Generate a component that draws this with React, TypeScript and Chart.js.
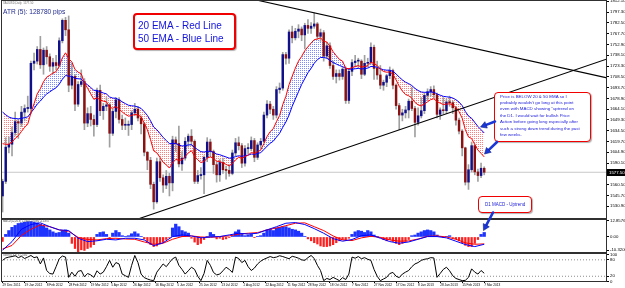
import React, { useEffect, useRef } from 'react';
import { Chart, registerables } from 'chart.js';

Chart.register(...registerables);

// ---------- DATA (XAUUSD daily, each bar = 2 sessions) ----------
const OPEN = [
  1545, 1565, 1612, 1616, 1632, 1647, 1645, 1660, 1665, 1665,
  1727, 1730, 1746, 1725, 1745, 1736, 1723, 1728, 1724, 1758,
  1786, 1773, 1697, 1709, 1671, 1698, 1702, 1645, 1658, 1650,
  1643, 1690, 1662, 1668, 1670, 1631, 1661, 1677, 1650, 1642,
  1642, 1643, 1659, 1664, 1652, 1644, 1605, 1594, 1561, 1537,
  1592, 1570, 1560, 1572, 1563, 1622, 1617, 1589, 1597, 1620,
  1627, 1620, 1565, 1573, 1574, 1598, 1619, 1606, 1588, 1574,
  1591, 1581, 1580, 1576, 1604, 1618, 1614, 1590, 1610, 1610,
  1621, 1598, 1615, 1620, 1656, 1671, 1664, 1656, 1691, 1693,
  1739, 1734, 1770, 1762, 1771, 1774, 1766, 1779, 1775, 1778,
  1781, 1764, 1769, 1737, 1751, 1724, 1709, 1713, 1709, 1719,
  1676, 1716, 1728, 1730, 1730, 1712, 1727, 1728, 1749, 1720,
  1711, 1697, 1701, 1710, 1717, 1697, 1669, 1656, 1659, 1663,
  1675, 1665, 1646, 1655, 1662, 1683, 1688, 1691, 1684, 1657,
  1663, 1662, 1674, 1673, 1666, 1649, 1634, 1611, 1564, 1581,
  1614, 1578, 1573, 1583,
];
const HIGH = [
  1568, 1625, 1626, 1640, 1660, 1650, 1668, 1670, 1682, 1730,
  1741, 1750, 1764, 1748, 1750, 1740, 1734, 1738, 1762, 1788,
  1790, 1792, 1727, 1712, 1702, 1718, 1706, 1666, 1668, 1656,
  1693, 1697, 1672, 1680, 1672, 1664, 1680, 1680, 1656, 1652,
  1648, 1662, 1672, 1668, 1655, 1646, 1606, 1598, 1564, 1597,
  1597, 1574, 1580, 1576, 1627, 1626, 1641, 1606, 1625, 1630,
  1636, 1622, 1580, 1584, 1600, 1625, 1623, 1608, 1592, 1595,
  1597, 1586, 1588, 1608, 1624, 1626, 1617, 1614, 1617, 1626,
  1624, 1618, 1624, 1660, 1676, 1675, 1668, 1695, 1700, 1742,
  1742, 1773, 1778, 1775, 1780, 1777, 1782, 1787, 1783, 1796,
  1783, 1774, 1772, 1756, 1755, 1730, 1718, 1718, 1722, 1722,
  1720, 1732, 1738, 1734, 1732, 1738, 1734, 1755, 1752, 1730,
  1724, 1704, 1712, 1722, 1719, 1699, 1672, 1664, 1668, 1678,
  1694, 1668, 1666, 1680, 1686, 1692, 1695, 1696, 1686, 1666,
  1680, 1678, 1682, 1675, 1668, 1652, 1636, 1612, 1588, 1619,
  1616, 1582, 1590, 1585,
];
const LOW = [
  1523, 1562, 1604, 1600, 1628, 1624, 1640, 1648, 1660, 1658,
  1718, 1726, 1720, 1712, 1726, 1716, 1712, 1718, 1722, 1755,
  1765, 1688, 1692, 1662, 1668, 1695, 1636, 1640, 1641, 1627,
  1640, 1655, 1650, 1662, 1612, 1628, 1652, 1645, 1636, 1636,
  1628, 1636, 1655, 1648, 1630, 1600, 1581, 1555, 1527, 1535,
  1565, 1550, 1555, 1545, 1552, 1606, 1585, 1580, 1594, 1612,
  1614, 1562, 1562, 1568, 1548, 1592, 1600, 1576, 1564, 1565,
  1576, 1568, 1572, 1574, 1600, 1608, 1584, 1586, 1603, 1607,
  1592, 1595, 1610, 1618, 1652, 1658, 1650, 1652, 1686, 1690,
  1726, 1727, 1755, 1759, 1762, 1758, 1747, 1768, 1768, 1775,
  1760, 1757, 1730, 1734, 1720, 1705, 1700, 1704, 1705, 1672,
  1672, 1710, 1722, 1720, 1706, 1710, 1722, 1726, 1705, 1705,
  1692, 1690, 1695, 1706, 1692, 1664, 1636, 1648, 1652, 1652,
  1662, 1626, 1642, 1652, 1658, 1676, 1682, 1680, 1652, 1650,
  1658, 1658, 1668, 1658, 1642, 1630, 1600, 1560, 1554, 1578,
  1574, 1565, 1570, 1574,
];
const CLOSE = [
  1565, 1612, 1616, 1632, 1647, 1645, 1660, 1665, 1665, 1727,
  1730, 1746, 1725, 1745, 1736, 1723, 1728, 1724, 1758, 1786,
  1773, 1697, 1709, 1671, 1698, 1702, 1645, 1658, 1650, 1643,
  1690, 1662, 1668, 1670, 1631, 1661, 1677, 1650, 1642, 1642,
  1643, 1659, 1664, 1652, 1644, 1605, 1594, 1561, 1537, 1592,
  1570, 1560, 1572, 1563, 1622, 1617, 1589, 1597, 1620, 1627,
  1620, 1565, 1573, 1574, 1598, 1619, 1606, 1588, 1574, 1591,
  1581, 1580, 1576, 1604, 1618, 1614, 1590, 1610, 1610, 1621,
  1598, 1615, 1620, 1656, 1671, 1664, 1656, 1691, 1693, 1739,
  1734, 1770, 1762, 1771, 1774, 1766, 1779, 1775, 1778, 1781,
  1764, 1769, 1737, 1751, 1724, 1709, 1713, 1709, 1719, 1676,
  1716, 1728, 1730, 1730, 1712, 1727, 1728, 1749, 1720, 1711,
  1697, 1701, 1710, 1717, 1697, 1669, 1656, 1659, 1663, 1675,
  1665, 1646, 1655, 1662, 1683, 1688, 1691, 1684, 1657, 1663,
  1662, 1674, 1673, 1666, 1649, 1634, 1611, 1564, 1581, 1614,
  1578, 1573, 1583, 1577.5,
];
const EMA20 = [
  1616.7, 1615.9, 1615.9, 1618.8, 1623.9, 1627.7, 1633.5, 1639.2, 1643.8, 1658.8,
  1671.6, 1685.0, 1692.2, 1701.7, 1707.9, 1710.6, 1713.7, 1715.6, 1723.2, 1734.5,
  1741.4, 1733.4, 1729.0, 1718.6, 1714.9, 1712.6, 1700.4, 1692.8, 1685.1, 1677.5,
  1679.8, 1676.6, 1675.1, 1674.2, 1666.4, 1665.4, 1667.5, 1664.3, 1660.3, 1657.0,
  1654.5, 1655.3, 1656.9, 1656.0, 1653.8, 1645.0, 1635.8, 1622.3, 1606.9, 1604.2,
  1598.0, 1591.2, 1587.7, 1583.3, 1590.3, 1595.1, 1594.0, 1594.5, 1599.1, 1604.1,
  1607.0, 1599.4, 1594.6, 1590.9, 1592.2, 1597.0, 1598.6, 1596.7, 1592.6, 1592.3,
  1590.3, 1588.4, 1586.2, 1589.4, 1594.5, 1598.0, 1596.6, 1599.0, 1601.0, 1604.6,
  1603.4, 1605.5, 1608.1, 1616.7, 1626.5, 1633.3, 1637.4, 1647.0, 1655.3, 1670.4,
  1681.8, 1697.7, 1709.3, 1720.4, 1730.0, 1736.5, 1744.2, 1749.7, 1754.8, 1759.5,
  1760.3, 1761.9, 1757.4, 1756.2, 1750.4, 1742.9, 1737.5, 1732.4, 1730.0, 1720.3,
  1719.5, 1721.0, 1722.6, 1723.9, 1721.8, 1722.7, 1723.7, 1728.3, 1726.8, 1724.0,
  1719.1, 1715.8, 1714.8, 1715.2, 1711.9, 1704.2, 1695.5, 1688.9, 1684.2, 1682.5,
  1679.3, 1673.3, 1670.0, 1668.6, 1671.2, 1674.2, 1677.2, 1678.4, 1674.5, 1672.4,
  1670.5, 1671.1, 1671.4, 1670.4, 1666.5, 1660.6, 1651.7, 1635.9, 1626.0, 1623.8,
  1615.6, 1607.9, 1603.4, 1598.6,
];
const EMA50 = [
  1660.1, 1656.4, 1653.3, 1651.7, 1651.3, 1650.8, 1651.5, 1652.5, 1653.5, 1659.2,
  1664.7, 1671.0, 1675.2, 1680.6, 1684.9, 1687.8, 1690.9, 1693.4, 1698.4, 1705.1,
  1710.3, 1709.3, 1709.3, 1706.4, 1705.8, 1705.5, 1700.8, 1697.5, 1693.8, 1689.9,
  1689.9, 1687.8, 1686.3, 1685.0, 1680.8, 1679.3, 1679.1, 1676.9, 1674.2, 1671.7,
  1669.5, 1668.7, 1668.3, 1667.0, 1665.2, 1660.6, 1655.5, 1648.2, 1639.6, 1635.9,
  1630.8, 1625.3, 1621.2, 1616.7, 1617.1, 1617.1, 1614.9, 1613.5, 1614.0, 1615.0,
  1615.4, 1611.5, 1608.5, 1605.8, 1605.2, 1606.3, 1606.3, 1604.9, 1602.5, 1601.6,
  1600.0, 1598.5, 1596.8, 1597.4, 1599.0, 1600.2, 1599.4, 1600.2, 1601.0, 1602.5,
  1602.2, 1603.2, 1604.5, 1608.5, 1613.3, 1617.2, 1620.2, 1625.7, 1630.9, 1639.2,
  1646.5, 1656.0, 1668.0, 1678.0, 1688.0, 1698.0, 1706.0, 1714.0, 1720.0, 1727.0,
  1732.0, 1735.0, 1735.0, 1734.0, 1731.0, 1728.0, 1726.0, 1724.0, 1722.5, 1720.0,
  1719.0, 1719.0, 1719.5, 1720.0, 1719.2, 1719.8, 1720.4, 1722.6, 1722.4, 1721.5,
  1719.6, 1718.2, 1717.6, 1717.6, 1716.0, 1712.4, 1708.1, 1704.3, 1701.1, 1699.1,
  1696.5, 1692.6, 1689.7, 1687.6, 1687.2, 1687.3, 1687.6, 1687.3, 1685.0, 1683.3,
  1681.7, 1681.1, 1680.5, 1679.4, 1677.1, 1673.8, 1669.0, 1660.9, 1654.7, 1651.6,
  1645.9, 1640.3, 1635.9, 1631.4,
];
const MACD_HIST = [
  -3.5, 2.0, 5.0, 7.5, 9.0, 10.5, 11.0, 11.5, 11.9, 12.0,
  11.5, 11.0, 10.0, 8.5, 7.0, 5.5, 4.0, 3.0, 3.5, 5.0,
  5.5, 3.0, -5.0, -9.0, -11.5, -10.0, -10.5, -9.0, -8.0, -6.0,
  2.0, 3.5, 4.0, 2.0, -1.0, 3.0, 5.0, 3.5, 1.0, 0.5,
  1.0, 2.5, 4.0, 2.5, 0.5, -1.5, -3.5, -6.0, -7.5, -7.0,
  -5.5, -4.0, -2.0, -0.5, 7.0, 10.0, 8.0, 5.0, 4.0, 3.0,
  -1.0, -4.0, -6.0, -5.0, -2.0, 0.5, 3.5, 2.0, -1.5, -1.0,
  -2.0, -1.5, -0.5, 1.0, 4.0, 5.5, 2.0, 1.0, 1.5, 2.0,
  -0.5, 0.5, 1.0, 3.0, 5.5, 6.0, 5.0, 7.0, 7.5, 8.0,
  8.0, 7.0, 6.0, 5.5, 4.5, 3.0, 0.5, -1.5, -3.0, -4.5,
  -5.5, -7.0, -7.5, -7.5, -7.0, -6.0, -4.5, -3.0, -2.0, -2.5,
  -1.0, 2.0, 4.0, 5.0, 4.5, 3.5, 5.0, 4.0, 1.5, 0.5,
  -0.5, -2.0, -3.0, -2.0, -3.5, -5.0, -6.0, -5.0, -3.5, -2.0,
  1.0, 1.5, 3.0, 4.0, 5.0, 5.5, 5.0, 4.0, 1.5, 0.5,
  -0.5, 0.5, 1.0, -0.5, -1.5, -3.0, -4.5, -6.5, -7.5, -7.5,
  -5.0, -2.0, 2.0, 3.5,
];
const MACD_STEP = 3; // MACD line samples every 3 bars
const MACD_MAIN = [
  -10.3, -3.6, 6.0, 9.7, 11.0, 8.0, 5.5, 5.0, -1.0, -3.6,
  -3.0, -1.8, -2.3, -1.0, -1.0, -2.3, -6.8, -4.5, 0.3, 1.6,
  0.8, -0.7, 0.0, 0.3, 1.6, 2.9, 2.3, 2.9, 5.5, 8.0,
  10.7, 11.2, 9.7, 6.5, 2.9, -1.3, -3.3, -2.0, 1.0, 1.6,
  -1.0, -3.6, -4.9, -3.9, -1.8, 0.3, 0.3, -0.7, -3.3, -5.9,
  -7.5, -5.7,
];
const MACD_SIGNAL = [
  -9.4, -6.6, 1.2, 6.0, 9.4, 8.0, 5.5, 4.4, -0.3, -2.0,
  -2.3, -1.3, -1.0, -1.6, -1.8, -3.9, -5.7, -4.9, -1.8, 0.3,
  0.8, 0.0, -0.3, 0.3, 0.8, 2.3, 2.9, 3.4, 5.5, 7.0,
  8.8, 10.7, 11.0, 8.0, 5.0, 0.8, -2.3, -2.8, -0.7, 0.5,
  -0.3, -2.3, -3.3, -3.1, -1.6, 0.5, 0.8, 0.0, -1.8, -4.6,
  -5.7, -5.4,
];
const OSC = [
  78, 87, 90, 92, 95, 88, 93, 85, 90, 96,
  88, 91, 65, 87, 41, 30, 28, 55, 84, 94,
  90, 16, 35, 20, 38, 41, 18, 30, 25, 16,
  40, 28, 35, 55, 78, 53, 70, 65, 28, 22,
  16, 60, 96, 70, 28, 15, 10, 6, 4, 35,
  50, 65, 55, 70, 84, 90, 60, 45, 28, 40,
  53, 45, 20, 4, 30, 78, 60, 34, 25, 28,
  40, 53, 45, 34, 90, 85, 70, 78, 55, 41,
  50, 65, 75, 82, 87, 92, 88, 90, 95, 92,
  88, 84, 93, 90, 86, 80, 78, 88, 96, 85,
  60, 41, 4, 12, 8, 16, 10, 4, 15, 8,
  28, 90, 86, 92, 84, 88, 82, 78, 45, 20,
  4, 10, 16, 30, 34, 20, 15, 28, 35, 41,
  55, 65, 70, 78, 82, 84, 88, 87, 16, 30,
  45, 53, 40, 22, 12, 8, 4, 5, 16, 47,
  35, 28, 41, 31,
];
const OSC_LEVELS = [80, 20];
const CURRENT_PRICE = 1577.5;
// trend lines: [bar index, price]
const TREND_DOWN = [{ x: 80, y: 1814.5 }, { x: 192, y: 1707 }];
const TREND_UP = [{ x: 43, y: 1513.4 }, { x: 192, y: 1732.9 }];

const PRICE_TICKS = [
  1812.1, 1797.3, 1782.5, 1767.7, 1752.9, 1738.1, 1723.3, 1708.5, 1693.7, 1678.9,
  1664.1, 1649.3, 1634.5, 1619.7, 1604.9, 1590.1, 1575.3, 1560.5, 1545.7, 1530.9,
];
const MACD_TICKS = [12.8576, 0, -10.32];
const MACD_TICK_LABELS = ['12.8576', '0.00', '-10.3200'];
const OSC_TICKS = [100, 80, 20, 0];
const OSC_TICK_LABELS = ['100', '80', '20', '0'];
const DATE_LABELS = [
  '29 Dec 2011', '19 Jan 2012', '8 Feb 2012', '28 Feb 2012', '19 Mar 2012', '5 Apr 2012',
  '26 Apr 2012', '16 May 2012', '5 Jun 2012', '25 Jun 2012', '13 Jul 2012', '2 Aug 2012',
  '22 Aug 2012', '11 Sep 2012', '28 Sep 2012', '18 Oct 2012', '7 Nov 2012', '27 Nov 2012',
  '17 Dec 2012', '8 Jan 2013', '28 Jan 2013', '15 Feb 2013', '7 Mar 2013',
];
const DATE_SESSIONS = [0, 14, 28, 42, 56, 69, 83, 97, 111, 125, 139, 153, 167, 181, 194, 208, 222, 236, 250, 264, 278, 292, 306];
const SESSIONS_PER_BAR = 2;

// ---------- scale ranges ----------
const X_MIN = -0.5;
const X_MAX = 192;
const PRICE_MIN = 1513.4;
const PRICE_MAX = 1812.5;
const MACD_MIN = -12.5;
const MACD_MAX = 14.0;
const OSC_MIN = -1;
const OSC_MAX = 105;

// ---------- styles ----------
const FAMILY = "'Liberation Sans', Arial, sans-serif";
const AXIS_FONT = { family: FAMILY, size: 4.3 };
const UP_BODY = '#10108a';
const DOWN_BODY = '#8b1010';
const WICK = '#a0a0a0';
const AXIS_W = 18;

function makePattern(color: string) {
  const c = document.createElement('canvas');
  c.width = 2;
  c.height = 2;
  const g = c.getContext('2d')!;
  g.fillStyle = color;
  g.fillRect(0, 0, 1, 1);
  return g.createPattern(c, 'repeat')!;
}

const framePlugin = {
  id: 'paneFrame',
  afterDraw(chart: any, _a: any, opts: any) {
    const { ctx, chartArea: a } = chart;
    ctx.save();
    ctx.strokeStyle = '#303030';
    ctx.lineWidth = 1;
    const top = opts && opts.outerTop ? a.top - 0.5 : a.top + 0.5;
    ctx.strokeRect(a.left + 0.5, top, a.right - a.left - 1, a.bottom - 0.5 - top);
    ctx.restore();
  },
};

const pricePlugin = {
  id: 'priceMarker',
  afterDraw(chart: any) {
    const { ctx, chartArea: a, scales } = chart;
    const y = scales.y.getPixelForValue(CURRENT_PRICE);
    ctx.save();
    ctx.fillStyle = '#000';
    ctx.fillRect(a.right, Math.round(y) - 3, AXIS_W, 7);
    ctx.fillStyle = '#fff';
    ctx.font = `4.3px ${FAMILY}`;
    ctx.textBaseline = 'middle';
    ctx.fillText(CURRENT_PRICE.toFixed(2), a.right + 2, Math.round(y) + 0.5);
    ctx.restore();
  },
};

function hiddenX() {
  return { type: 'linear', min: X_MIN, max: X_MAX, display: false, offset: false, grid: { offset: false } };
}

function rightAxis(min: number, max: number, ticks: number[], label: (v: number, i: number) => string) {
  return {
    type: 'linear',
    position: 'right',
    min,
    max,
    beginAtZero: false,
    afterBuildTicks: (s: any) => {
      s.ticks = ticks.map((v) => ({ value: v }));
    },
    afterFit: (s: any) => {
      s.width = AXIS_W;
      s.paddingTop = 0;
      s.paddingBottom = 0;
    },
    ticks: {
      autoSkip: false,
      font: AXIS_FONT,
      color: '#000',
      padding: 1,
      callback: (v: any, i: number) => label(Number(v), i),
    },
    grid: { drawOnChartArea: false, tickLength: 2, color: '#000', lineWidth: 1 },
    border: { display: false },
  };
}

function baseOptions(scales: any, padTop: number, frameOpts: any) {
  return {
    responsive: false,
    maintainAspectRatio: false,
    animation: false,
    events: [],
    layout: { padding: { left: 1, top: padTop, right: 0, bottom: 0 } },
    plugins: {
      legend: { display: false },
      tooltip: { enabled: false },
      filler: { drawTime: 'beforeDatasetsDraw', propagate: false },
      paneFrame: frameOpts,
    },
    scales,
  };
}

const K = 4;
function Tiny(props: { x: number; y: number; size: number; color: string; lh?: number; children: any }) {
  const { x, y, size, color, lh, children } = props;
  return (
    <div
      style={{
        position: 'absolute',
        left: x,
        top: y,
        fontFamily: FAMILY,
        fontSize: size * K,
        lineHeight: `${(lh ?? size) * K}px`,
        color,
        whiteSpace: 'pre',
        transform: `scale(${1 / K})`,
        transformOrigin: '0 0',
      }}
    >
      {children}
    </div>
  );
}

function Arrow(props: { x1: number; y1: number; x2: number; y2: number }) {
  const { x1, y1, x2, y2 } = props;
  const dx = x2 - x1;
  const dy = y2 - y1;
  const len = Math.hypot(dx, dy);
  const ux = dx / len;
  const uy = dy / len;
  const hl = 6;
  const hw = 3.4;
  const bx = x2 - ux * hl;
  const by = y2 - uy * hl;
  const pts = `${x2},${y2} ${bx - uy * hw},${by + ux * hw} ${bx + uy * hw},${by - ux * hw}`;
  return (
    <g>
      <line x1={x1} y1={y1} x2={bx} y2={by} stroke="#1a36d6" strokeWidth={2.6} strokeLinecap="round" />
      <polygon points={pts} fill="#1a36d6" stroke="#0d1f8a" strokeWidth={0.6} />
    </g>
  );
}

const boxStyle = (left: number, top: number, width: number, height: number, bw: number): any => ({
  position: 'absolute',
  left,
  top,
  width,
  height,
  boxSizing: 'border-box',
  border: `${bw}px solid #f00000`,
  borderRadius: 4,
  background: '#fff',
  boxShadow: '1px 1px 1px rgba(0,0,0,0.3)',
});

export default function App() {
  const mainRef = useRef<HTMLCanvasElement>(null);
  const macdRef = useRef<HTMLCanvasElement>(null);
  const oscRef = useRef<HTMLCanvasElement>(null);

  useEffect(() => {
    document.body.style.margin = '0';
    const idx = CLOSE.map((_, i) => i);
    const wicks = idx.map((i) => ({ x: i, y: [LOW[i], HIGH[i]] }));
    const bodies = idx.map((i) => ({ x: i, y: [OPEN[i], CLOSE[i]] }));
    const bodyColors = idx.map((i) => (CLOSE[i] >= OPEN[i] ? UP_BODY : DOWN_BODY));
    const ema20 = EMA20.map((v, i) => ({ x: i, y: v }));
    const ema50 = EMA50.map((v, i) => ({ x: i, y: v }));
    const curLine = [
      { x: X_MIN, y: CURRENT_PRICE },
      { x: X_MAX, y: CURRENT_PRICE },
    ];
    const blueHatch = makePattern('rgba(40,60,255,0.6)');
    const redHatch = makePattern('rgba(255,40,40,0.6)');

    const main = new Chart(mainRef.current!, {
      type: 'bar',
      data: {
        datasets: [
          { type: 'line', data: TREND_DOWN, borderColor: '#000', borderWidth: 1.1, pointRadius: 0, order: 0 },
          { type: 'line', data: TREND_UP, borderColor: '#000', borderWidth: 1.1, pointRadius: 0, order: 0 },
          {
            type: 'line',
            data: ema20,
            borderColor: '#ff0000',
            borderWidth: 1,
            pointRadius: 0,
            order: 1,
            fill: { target: '+1', above: blueHatch, below: redHatch },
          },
          { type: 'line', data: ema50, borderColor: '#0000ff', borderWidth: 1, pointRadius: 0, order: 1 },
          {
            type: 'bar',
            data: bodies,
            backgroundColor: bodyColors,
            barThickness: 1.8,
            grouped: false,
            minBarLength: 1,
            borderWidth: 0,
            order: 2,
          },
          { type: 'bar', data: wicks, backgroundColor: WICK, barThickness: 1, grouped: false, borderWidth: 0, order: 3 },
          { type: 'line', data: curLine, borderColor: '#c8c8c8', borderWidth: 1, pointRadius: 0, order: 4 },
        ],
      } as any,
      options: baseOptions(
        {
          x: hiddenX(),
          y: rightAxis(PRICE_MIN, PRICE_MAX, PRICE_TICKS, (v) => v.toFixed(2)),
        },
        1,
        { outerTop: true }
      ) as any,
      plugins: [framePlugin, pricePlugin],
    });

    const histPos = MACD_HIST.map((v, i) => ({ x: i, y: v })).filter((p) => p.y >= 0);
    const histNeg = MACD_HIST.map((v, i) => ({ x: i, y: v })).filter((p) => p.y < 0);
    const macdMain = MACD_MAIN.map((v, i) => ({ x: i * MACD_STEP, y: v }));
    const macdSig = MACD_SIGNAL.map((v, i) => ({ x: i * MACD_STEP, y: v }));

    const macd = new Chart(macdRef.current!, {
      type: 'bar',
      data: {
        datasets: [
          { type: 'line', data: macdMain, borderColor: '#0000ff', borderWidth: 1, pointRadius: 0, order: 0 },
          { type: 'line', data: macdSig, borderColor: '#ff0000', borderWidth: 1, pointRadius: 0, order: 1 },
          { type: 'bar', data: histPos, backgroundColor: '#1f33ff', barThickness: 2.6, grouped: false, borderWidth: 0, order: 2 },
          { type: 'bar', data: histNeg, backgroundColor: '#ff1f1f', barThickness: 1.6, grouped: false, borderWidth: 0, order: 2 },
        ],
      } as any,
      options: baseOptions(
        {
          x: hiddenX(),
          y: rightAxis(MACD_MIN, MACD_MAX, MACD_TICKS, (_v, i) => MACD_TICK_LABELS[i]),
        },
        0,
        {}
      ) as any,
      plugins: [framePlugin],
    });

    const oscData = OSC.map((v, i) => ({ x: i, y: v }));
    const levelSets = OSC_LEVELS.map((lv) => ({
      type: 'line',
      data: [
        { x: X_MIN, y: lv },
        { x: X_MAX, y: lv },
      ],
      borderColor: '#8c8c8c',
      borderWidth: 1,
      borderDash: [1, 2],
      pointRadius: 0,
      order: 1,
    }));

    const osc = new Chart(oscRef.current!, {
      type: 'line',
      data: {
        datasets: [
          { type: 'line', data: oscData, borderColor: '#000', borderWidth: 1, pointRadius: 0, order: 0 },
          ...levelSets,
        ],
      } as any,
      options: baseOptions(
        {
          x: {
            type: 'linear',
            min: X_MIN,
            max: X_MAX,
            offset: false,
            position: 'bottom',
            afterBuildTicks: (s: any) => {
              s.ticks = DATE_SESSIONS.map((d) => ({ value: d / SESSIONS_PER_BAR }));
            },
            afterFit: (s: any) => {
              s.height = 6;
              s.paddingLeft = 0;
              s.paddingRight = 0;
            },
            ticks: {
              autoSkip: false,
              maxRotation: 0,
              minRotation: 0,
              align: 'start',
              padding: 0,
              font: { family: FAMILY, size: 3.2 },
              color: '#000',
              callback: (_v: any, i: number) => DATE_LABELS[i],
            },
            grid: { drawOnChartArea: false, tickLength: 1, color: '#000' },
            border: { display: false },
          },
          y: rightAxis(OSC_MIN, OSC_MAX, OSC_TICKS, (_v, i) => OSC_TICK_LABELS[i]),
        },
        0,
        {}
      ) as any,
      plugins: [framePlugin],
    });

    return () => {
      main.destroy();
      macd.destroy();
      osc.destroy();
    };
  }, []);

  return (
    <div style={{ position: 'relative', width: 625, height: 288, overflow: 'hidden', background: '#fff' }}>
      <canvas ref={mainRef} width={625} height={219} style={{ position: 'absolute', left: 0, top: 0, display: 'block' }} />
      <canvas ref={macdRef} width={625} height={34} style={{ position: 'absolute', left: 0, top: 219, display: 'block' }} />
      <canvas ref={oscRef} width={625} height={35} style={{ position: 'absolute', left: 0, top: 253, display: 'block' }} />

      <Tiny x={3} y={1.5} size={2.8} color="#707070">XAUUSD,Daily  1577.50</Tiny>
      <Tiny x={3} y={7.8} size={6.6} color="#1f2a8f">ATR (5): 128780 pips</Tiny>
      <Tiny x={3} y={219.8} size={2.6} color="#505050">MACD(12,26,9) 1.0358 -5.6980 -5.4374</Tiny>
      <Tiny x={3} y={254.4} size={2.6} color="#505050">Stoch(5,3,3) 31.2500</Tiny>

      <div style={boxStyle(133, 12.5, 102.5, 37.5, 2)} />
      <Tiny x={138.3} y={19.8} size={10} color="#1414e0">20 EMA - Red Line</Tiny>
      <Tiny x={138.3} y={33.2} size={10} color="#1414e0">50 EMA - Blue Line</Tiny>

      <div style={boxStyle(494, 91.5, 97, 50.5, 1.5)} />
      <Tiny x={500} y={93.1} size={4.4} lh={6.4} color="#1a1ad8">
        {'Price is BELOW 20 & 50 EMA so I\nprobably wouldn\'t go long at this point\neven with MACD showing "uptrend on\nthe D1. I would wait for bullish Price\nAction before going long especially after\nsuch a strong down trend during the past\nfew weeks.'}
      </Tiny>

      <div style={boxStyle(478.3, 196, 54, 16.7, 1.5)} />
      <Tiny x={485} y={201.7} size={4.5} color="#1a1ad8">D1 MACD - Uptrend</Tiny>

      <svg width={625} height={288} style={{ position: 'absolute', left: 0, top: 0, pointerEvents: 'none' }}>
        <Arrow x1={495} y1={121.5} x2={480.5} y2={127} />
        <Arrow x1={497} y1={142} x2={484.5} y2={154} />
        <Arrow x1={493} y1={212.5} x2={483.5} y2={230.5} />
      </svg>
    </div>
  );
}
